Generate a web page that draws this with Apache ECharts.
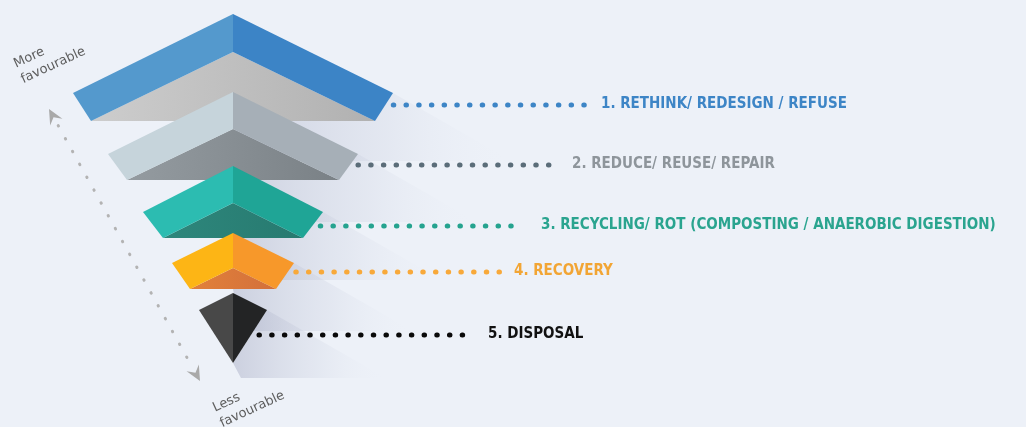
<!DOCTYPE html>
<html>
<head>
<meta charset="utf-8">
<title>Waste hierarchy</title>
<script src="https://cdn.jsdelivr.net/npm/echarts@6/dist/echarts.min.js"></script>
<style>
  html, body { margin: 0; padding: 0; background: #edf1f8; }
  #chart { width: 1026px; height: 427px; }
</style>
</head>
<body>
<div id="chart"></div>
<script>
// Waste hierarchy, from most to least favourable option
const levels = [
  '1. RETHINK/ REDESIGN / REFUSE',
  '2. REDUCE/ REUSE/ REPAIR',
  '3. RECYCLING/ ROT (COMPOSTING / ANAEROBIC DIGESTION)',
  '4. RECOVERY',
  '5. DISPOSAL'
];

// Tier geometry in axis units (x: 0–1026, y: 0–427 counted downward)
const tierHalfWidth  = [160, 125, 90, 61, 34];
const tierApexY      = [14, 92, 166, 233, 293];
const tierRimY       = [93, 154, 212, 263, 310];
const tierInnerApexY = [52, 129, 203, 268, 363];
const tierBaseY      = [121, 180, 238, 289, 363];
const tierInset      = [18, 19, 20, 18, 34];

// Dotted leaders and their labels
const leaderY    = [105, 165, 226, 272, 335];
const leaderEndX = [585, 557, 522, 500, 465];
const labelX     = [601, 572, 541, 514, 488];

// "More / less favourable" scale along the left side
const favourTips   = [[49, 109], [200, 381]];
const favourLabels = ['More\nfavourable', 'Less\nfavourable'];
const favourAnchor = [[11, 57], [210, 401]];

const CENTER_X = 233;

const faceLeft   = ['#5499cd', '#c6d4db', '#2cbcb1', '#fdb515', '#484848'];
const faceRight  = ['#3c84c6', '#a6afb7', '#1fa596', '#f7982a', '#232425'];
const underLeft  = ['#cdcdcd', '#949ba0', '#2e877c', '#e2813a', '#2a2a2a'];
const underRight = ['#b1b1b1', '#7a8186', '#277a70', '#d3703b', '#2a2a2a'];
const labelColor = ['#3d85c6', '#8e959b', '#2aa48f', '#f2a534', '#111111'];
const dotColor   = ['#3d85c6', '#5b6d79', '#25a38f', '#f8a93a', '#0a0a0a'];

const LABEL_FONT = 'bold 15px "DejaVu Sans Condensed", "DejaVu Sans", sans-serif';

const tierData = levels.map((name, i) => [
  i, tierHalfWidth[i], tierApexY[i], tierRimY[i], tierInnerApexY[i], tierBaseY[i], tierInset[i]
]);

function readTier(api) {
  return {
    i: api.value(0),
    hw: api.value(1),
    apex: api.value(2),
    rim: api.value(3),
    inner: api.value(4),
    base: api.value(5),
    inset: api.value(6)
  };
}

// soft long shadow falling to the lower right of each tier
function renderShadow(params, api) {
  const t = readTier(api);
  const P = (x, y) => api.coord([x, y]);
  const drop = 68;
  const rt = P(CENTER_X + t.hw, t.rim);
  const far = P(CENTER_X + t.hw + drop * 1.75, t.rim + drop);
  const low = P(CENTER_X + 8, t.rim + drop);
  const mid = P(CENTER_X, t.base);
  return {
    type: 'polygon',
    shape: { points: [rt, far, low, mid] },
    style: {
      fill: new echarts.graphic.LinearGradient(0, 0, 1, 0, [
        { offset: 0, color: 'rgba(170,175,198,0.5)' },
        { offset: 0.55, color: 'rgba(205,210,225,0.3)' },
        { offset: 1, color: 'rgba(237,241,248,0)' }
      ])
    }
  };
}

function renderTier(params, api) {
  const t = readTier(api);
  const i = t.i;
  const P = (x, y) => api.coord([x, y]);
  const lt = P(CENTER_X - t.hw, t.rim);
  const a = P(CENTER_X, t.apex);
  const rt = P(CENTER_X + t.hw, t.rim);
  const lb = P(CENTER_X - t.hw + t.inset, t.base);
  const rb = P(CENTER_X + t.hw - t.inset, t.base);
  const ip = P(CENTER_X, t.inner);

  // where the leader meets the right end of the tier
  const y = leaderY[i];
  const frac = Math.min(1, Math.max(0, (y - t.rim) / (t.base - t.rim)));
  const edgeX = CENTER_X + t.hw - t.inset * frac;
  const s = P(edgeX + 8, y);
  const e = P(leaderEndX[i], y);
  const lp = P(labelX[i], y - 1);

  const children = [];
  if (t.inset < t.hw) {
    children.push({
      type: 'polygon',
      shape: { points: [lb, ip, rb] },
      style: {
        fill: new echarts.graphic.LinearGradient(0, 0, 1, 0, [
          { offset: 0, color: underLeft[i] },
          { offset: 1, color: underRight[i] }
        ])
      }
    });
  }
  children.push(
    { type: 'polygon', shape: { points: [lt, a, ip, lb] }, style: { fill: faceLeft[i] } },
    { type: 'polygon', shape: { points: [a, rt, rb, ip] }, style: { fill: faceRight[i] } },
    {
      type: 'line',
      shape: { x1: s[0], y1: s[1], x2: e[0], y2: e[1] },
      style: {
        stroke: dotColor[i], lineWidth: 5, lineCap: 'round',
        lineDash: [0.5, 12.2]
      }
    },
    {
      type: 'text',
      x: lp[0], y: lp[1],
      style: {
        text: levels[i], fill: labelColor[i], font: LABEL_FONT,
        align: 'left', verticalAlign: 'middle'
      }
    }
  );
  return { type: 'group', children };
}

// dotted double-headed arrow with its two captions
function renderFavour(params, api) {
  const top = api.coord(favourTips[0]);
  const bot = api.coord(favourTips[1]);
  const dx = bot[0] - top[0], dy = bot[1] - top[1];
  const len = Math.hypot(dx, dy);
  const u = [dx / len, dy / len];
  const n = [-u[1], u[0]];
  const L = 15, W = 7;
  const head = (tip, dir) => {
    const back = [tip[0] - dir[0] * L, tip[1] - dir[1] * L];
    const notch = [tip[0] - dir[0] * L * 0.62, tip[1] - dir[1] * L * 0.62];
    return {
      type: 'polygon',
      shape: { points: [
        tip,
        [back[0] + n[0] * W, back[1] + n[1] * W],
        notch,
        [back[0] - n[0] * W, back[1] - n[1] * W]
      ] },
      style: { fill: '#a9a9a9' }
    };
  };
  const gap = 19;
  const children = [
    {
      type: 'line',
      shape: {
        x1: top[0] + u[0] * gap, y1: top[1] + u[1] * gap,
        x2: bot[0] - u[0] * gap, y2: bot[1] - u[1] * gap
      },
      style: { stroke: '#b3b3b3', lineWidth: 3, lineCap: 'round', lineDash: [0.5, 14.2] }
    },
    head(top, [-u[0], -u[1]]),
    head(bot, u)
  ];
  favourLabels.forEach((txt, k) => {
    const p = api.coord(favourAnchor[k]);
    children.push({
      type: 'text',
      x: p[0], y: p[1],
      rotation: 25 * Math.PI / 180,
      style: {
        text: txt, fill: '#5e5e5e',
        font: '13px "DejaVu Sans", sans-serif',
        lineHeight: 17, align: 'left', verticalAlign: 'top'
      }
    });
  });
  return { type: 'group', children };
}

const chart = echarts.init(document.getElementById('chart'), null, { renderer: 'canvas' });
chart.setOption({
  backgroundColor: '#edf1f8',
  animation: false,
  grid: { left: 0, right: 0, top: 0, bottom: 0 },
  xAxis: { type: 'value', min: 0, max: 1026, show: false },
  yAxis: { type: 'value', min: 0, max: 427, inverse: true, show: false },
  series: [
    { type: 'custom', z: 1, silent: true, data: tierData, renderItem: renderShadow },
    { type: 'custom', z: 2, silent: true, data: [[0, 0]], renderItem: renderFavour },
    { type: 'custom', z: 3, silent: true, data: tierData, renderItem: renderTier }
  ]
});
</script>
</body>
</html>
